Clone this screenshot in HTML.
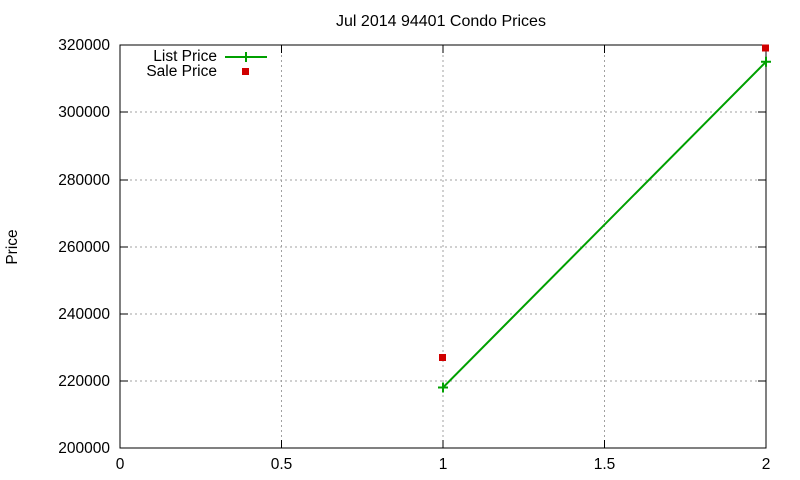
<!DOCTYPE html>
<html><head><style>body{margin:0;background:#fff}svg{display:block}</style></head><body>
<svg width="800" height="480" xmlns="http://www.w3.org/2000/svg" font-family="Liberation Sans, sans-serif" font-size="15.5">
<rect width="800" height="480" fill="#fff"/>
<g stroke="#a0a0a0" stroke-dasharray="2,3" stroke-width="1">
<line x1="120" y1="381" x2="766" y2="381"/><line x1="120" y1="314" x2="766" y2="314"/>
<line x1="120" y1="247" x2="766" y2="247"/><line x1="120" y1="180" x2="766" y2="180"/>
<line x1="120" y1="112" x2="766" y2="112"/>
<line x1="281.5" y1="45" x2="281.5" y2="448"/><line x1="443" y1="45" x2="443" y2="448"/><line x1="604.5" y1="45" x2="604.5" y2="448"/>
</g>
<rect x="120" y="45" width="646" height="403" fill="none" stroke="#000"/>
<g stroke="#000">
<line x1="120" y1="381" x2="128" y2="381"/><line x1="766" y1="381" x2="758" y2="381"/>
<line x1="120" y1="314" x2="128" y2="314"/><line x1="766" y1="314" x2="758" y2="314"/>
<line x1="120" y1="247" x2="128" y2="247"/><line x1="766" y1="247" x2="758" y2="247"/>
<line x1="120" y1="180" x2="128" y2="180"/><line x1="766" y1="180" x2="758" y2="180"/>
<line x1="120" y1="112" x2="128" y2="112"/><line x1="766" y1="112" x2="758" y2="112"/>
<line x1="281.5" y1="448" x2="281.5" y2="440"/><line x1="281.5" y1="45" x2="281.5" y2="53"/>
<line x1="443" y1="448" x2="443" y2="440"/><line x1="443" y1="45" x2="443" y2="53"/>
<line x1="604.5" y1="448" x2="604.5" y2="440"/><line x1="604.5" y1="45" x2="604.5" y2="53"/>
</g>
<g text-anchor="end">
<text x="110" y="453">200000</text><text x="110" y="386">220000</text><text x="110" y="319">240000</text>
<text x="110" y="252">260000</text><text x="110" y="185">280000</text><text x="110" y="117">300000</text><text x="110" y="50">320000</text>
</g>
<g text-anchor="middle">
<text x="120" y="469">0</text><text x="281.5" y="469">0.5</text><text x="443" y="469">1</text><text x="604.5" y="469">1.5</text><text x="766" y="469">2</text>
<text x="441" y="26" font-size="16">Jul 2014 94401 Condo Prices</text>
</g>
<text transform="translate(17,247) rotate(-90)" text-anchor="middle">Price</text>
<text x="217" y="61" text-anchor="end">List Price</text>
<text x="217" y="76" text-anchor="end">Sale Price</text>
<g stroke="#00a000" stroke-width="2" fill="none">
<line x1="225" y1="57" x2="267" y2="57"/><line x1="246" y1="52" x2="246" y2="62"/><line x1="241" y1="57" x2="251" y2="57"/>
<line x1="443" y1="387.5" x2="766" y2="61.8"/>
<path d="M438 387.5h10M443 382.5v10M761 61.8h10M766 56.8v10"/>
</g>
<g fill="#d00000">
<rect x="242" y="68" width="7" height="7"/>
<rect x="439" y="354" width="7" height="7"/>
<rect x="762" y="44.5" width="7" height="7"/>
</g>
</svg>
</body></html>
